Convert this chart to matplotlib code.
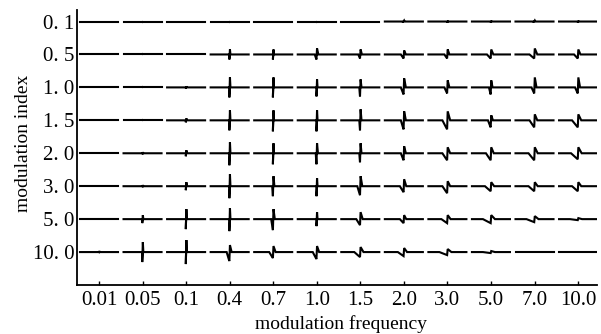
import numpy as np
import matplotlib
matplotlib.use('Agg')
import matplotlib.pyplot as plt

plt.rcParams['font.family'] = ['Liberation Serif', 'DejaVu Serif']

freq_labels = ['0.01', '0.05', '0.1', '0.4', '0.7', '1.0', '1.5', '2.0', '3.0', '5.0', '7.0', '10.0']
index_labels = ['0. 1', '0. 5', '1. 0', '1. 5', '2. 0', '3. 0', '5. 0', '10. 0']

# spike sizes, in pixels (rows top to bottom)
down_px = [
    [0, 0, 0, 0, 0, 0, 0, 0, 1, 1, 0, 1],
    [0, 0, 0, 5, 5, 5, 4, 4, 4, 4, 4, 4],
    [0, 0, 1, 10, 10, 9, 9, 7, 6, 7, 6, 6],
    [0, 0, 2, 10, 11, 11, 10, 9, 9, 7, 7, 7],
    [0, 1, 3, 12, 11, 11, 9, 7, 7, 7, 7, 6],
    [0, 1, 4, 12, 10, 10, 9, 6, 7, 5, 5, 5],
    [0, 4, 10, 12, 11, 7, 6, 4, 4, 4, 3, 1],
    [1, 10, 12, 9, 6, 7, 5, 4, 3, 1, 0, 0],
]
up_px = [
    [0, 0, 0, 0, 0, 0, 0, 1, 0, 0, 1, 0],
    [0, 0, 0, 5, 5, 6, 5, 4, 5, 5, 6, 5],
    [0, 0, 1, 10, 10, 8, 8, 9, 7, 7, 10, 10],
    [0, 0, 2, 10, 10, 10, 11, 9, 9, 5, 6, 6],
    [0, 1, 3, 11, 10, 10, 10, 7, 6, 6, 6, 6],
    [0, 1, 4, 12, 10, 8, 10, 7, 5, 4, 4, 4],
    [0, 4, 10, 11, 10, 7, 7, 4, 4, 4, 3, 1],
    [1, 10, 12, 7, 6, 6, 5, 4, 3, 1, 0, 0],
]
width_px = [
    [0, 0, 0, 0, 0, 0, 0, 0, 0, 0, 0, 0],
    [0, 0, 0, 0, 0, 2, 2, 3, 3, 4, 5, 4],
    [0, 0, 0, 0, 0, 0, 1, 3, 3, 2, 3, 3],
    [0, 0, 0, 0, 0, 0, 1, 3, 5, 3, 5, 6],
    [0, 0, 0, 0, 0, 1, 1, 3, 5, 5, 6, 7],
    [0, 0, 0, 0, 1, 0, 3, 4, 5, 6, 6, 6],
    [0, 0, 0, 0, 2, 0, 4, 4, 6, 8, 8, 8],
    [0, 0, 0, 3, 4, 4, 6, 6, 8, 8, 8, 8],
]

col_px = 43.55   # pixels per column
row_px = 32.93   # pixels per row

fig = plt.figure(figsize=(6.01, 3.34), dpi=100)
ax = fig.add_axes([77 / 601, 1 - 285 / 334, (597 - 77) / 601, (285 - 10) / 334])

for r in range(len(index_labels)):
    for c in range(len(freq_labels)):
        d, u, w = down_px[r][c], up_px[r][c], width_px[r][c]
        # trace shape in pixels: baseline, dip, spike up, baseline
        xs = np.array([-19, -w, -0.4 * w - 0.2, -0.3, 0.3, 0.8 + 0.4 * w, 19])
        ys = np.array([0, 0, -0.6 * d, -d, u, 0, 0])
        ax.plot(c + xs / col_px, r - ys / row_px, color='black', lw=1.5,
                solid_joinstyle='miter')

ax.set_xlim(-0.505, 11.435)
ax.set_ylim(8.0, -0.35)
ax.spines['top'].set_visible(False)
ax.spines['right'].set_visible(False)
for s in ('left', 'bottom'):
    ax.spines[s].set_linewidth(1.3)

ax.set_xticks(range(len(freq_labels)))
ax.set_xticklabels(freq_labels, fontsize=15)
ax.set_yticks(range(len(index_labels)))
ax.set_yticklabels(index_labels, fontsize=15)
ax.tick_params(axis='x', direction='in', length=3, width=1, pad=4)
ax.tick_params(axis='y', length=0, pad=2)

fig.text(341 / 601, 1 - 324 / 334, 'modulation frequency', fontsize=14,
         ha='center', va='center')
fig.text(24 / 601, 1 - 143 / 334, 'modulation index', fontsize=14,
         ha='center', va='center', rotation=90)

fig.savefig('out.png', dpi=100)
